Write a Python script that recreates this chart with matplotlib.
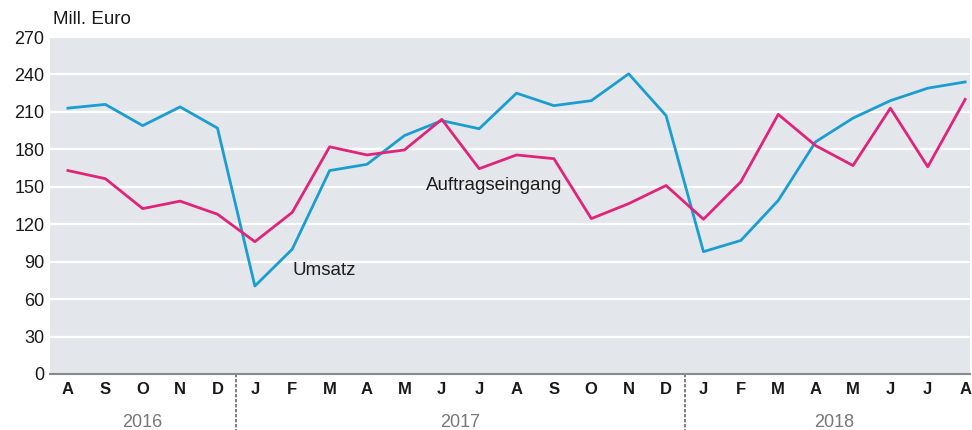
import matplotlib.pyplot as plt
from matplotlib.lines import Line2D

# Monate Aug 2016 bis Aug 2018
months = ["A", "S", "O", "N", "D",
          "J", "F", "M", "A", "M", "J", "J", "A", "S", "O", "N", "D",
          "J", "F", "M", "A", "M", "J", "J", "A"]
years = ["2016", "2017", "2018"]
year_starts = [0, 5, 17]

# Mill. Euro
umsatz = [213, 216, 199, 214, 197,
          70.5, 100, 163, 168, 191, 203, 196.5, 225, 215, 219, 240.5, 207,
          98, 107, 139, 186, 205, 219, 229, 234]
auftrag = [163, 156.5, 132.5, 138.5, 128,
           106, 129.5, 182, 175.5, 179.5, 204, 164.5, 175.5, 172.5, 124.5, 136.5, 151,
           124, 154, 208, 183, 167, 213, 166, 220]

yticks = list(range(0, 271, 30))

plt.rcParams['font.family'] = ['Liberation Sans', 'DejaVu Sans']

fig = plt.figure(figsize=(9.72, 4.3), dpi=100)
ax = fig.add_axes([50 / 972, 56 / 430, 920 / 972, 337 / 430])
ax.set_facecolor("#e3e7eb")

x = list(range(len(months)))
ax.set_xlim(-0.48, 24.13)
ax.set_ylim(0, 270)

for v in yticks[1:]:
    ax.axhline(v, color="white", lw=1.6, zorder=1)

ax.plot(x, umsatz, color="#1b9dd0", lw=2.0, zorder=3)
ax.plot(x, auftrag, color="#e0247a", lw=2.0, zorder=3)

ax.text(6.85, 83, "Umsatz", fontsize=13.5, color="#1e1e1e", ha="center", va="center", zorder=4)
ax.text(11.4, 151, "Auftragseingang", fontsize=13.5, color="#1e1e1e", ha="center", va="center", zorder=4)

for s in ["top", "right", "left"]:
    ax.spines[s].set_visible(False)
ax.spines["bottom"].set_color("#8a8a8a")
ax.spines["bottom"].set_linewidth(1.5)

ax.set_yticks(yticks)
ax.set_yticklabels([str(v) for v in yticks], fontsize=13, color="#1a1a1a")
ax.set_xticks(x)
ax.set_xticklabels(months, fontsize=12, fontweight="bold", color="#1a1a1a")
ax.tick_params(axis="both", length=0)
ax.tick_params(axis="x", pad=6)
ax.tick_params(axis="y", pad=4)

# Jahres-Trennlinien und Jahreszahlen
ends = year_starts[1:] + [len(months)]
for st, en, yr in zip(year_starts, ends, years):
    mid = (st + en - 1) / 2
    ax.text(mid, -0.145, yr, transform=ax.get_xaxis_transform(), fontsize=13,
            color="#777777", ha="center", va="center")
    if st > 0:
        ax.add_line(Line2D([st - 0.5, st - 0.5], [0, -0.17], transform=ax.get_xaxis_transform(),
                           color="#6a6a6a", lw=1.2, ls=(0, (2, 1)), clip_on=False))

fig.text(53 / 972, 1 - 20 / 430, "Mill. Euro", fontsize=13.5, color="#1a1a1a", va="center", ha="left")

fig.savefig("out.png", dpi=100)
